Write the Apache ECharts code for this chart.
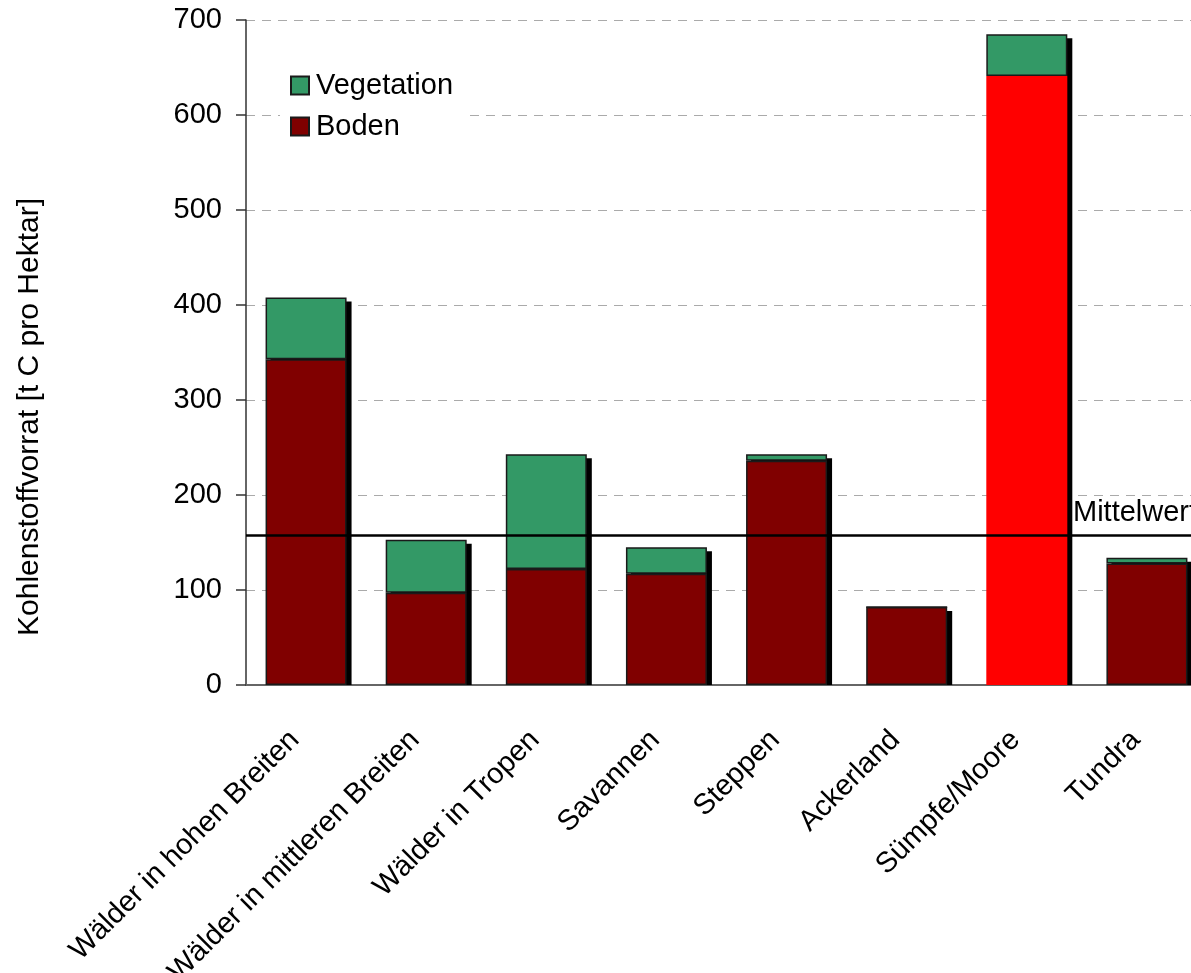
<!DOCTYPE html>
<html>
<head>
<meta charset="utf-8">
<title>Kohlenstoffvorrat</title>
<script src="https://cdn.jsdelivr.net/npm/echarts@6/dist/echarts.min.js"></script>
<style>
  html, body { margin: 0; padding: 0; background: #ffffff; }
  #chart { width: 1191px; height: 973px; }
</style>
</head>
<body>
<div id="chart"></div>
<script>
// Carbon stock per ecosystem type [t C per hectare]
const categories = [
  'Wälder in hohen Breiten',
  'Wälder in mittleren Breiten',
  'Wälder in Tropen',
  'Savannen',
  'Steppen',
  'Ackerland',
  'Sümpfe/Moore',
  'Tundra'
];
const boden = [343, 97, 122, 117, 236, 82, 641, 128];
const vegetation = [65, 56, 121, 28, 7, 0, 44, 6];
const mittelwert = 158;
const yTicks = [0, 100, 200, 300, 400, 500, 600, 700];
const highlightCategory = 'Sümpfe/Moore';

const FONT = 'Arial, "Liberation Sans", sans-serif';
const FS = 29;
const BAR_W = 81;
const GREEN = '#339966';
const DARKRED = '#800000';

const chart = echarts.init(document.getElementById('chart'), null, { renderer: 'canvas' });

const bodenData = boden.map((v, i) => categories[i] === highlightCategory
  ? { value: v, itemStyle: { color: '#ff0000', borderColor: '#ff0000', borderWidth: 3 } }
  : v);

const totals = categories.map((c, i) => [i, boden[i] + vegetation[i]]);

const option = {
  backgroundColor: '#ffffff',
  animation: false,
  textStyle: { fontFamily: FONT },
  grid: {
    left: 246, top: 20, width: 961, height: 665,
    containLabel: false,
    outerBoundsMode: 'none'
  },
  legend: {
    data: ['Vegetation', 'Boden'],
    orient: 'vertical',
    left: 280,
    top: 66,
    padding: [5, 12, 5, 10],
    backgroundColor: '#ffffff',
    itemWidth: 18,
    itemHeight: 18,
    itemGap: 12,
    icon: 'rect',
    textStyle: { fontSize: FS, color: '#000', fontFamily: FONT, padding: [0, 0, 0, 2] }
  },
  xAxis: {
    type: 'category',
    data: categories,
    axisLine: { show: true, lineStyle: { color: '#666666', width: 2 } },
    axisTick: { show: false },
    axisLabel: {
      rotate: 45,
      margin: 39,
      fontSize: FS,
      color: '#000',
      fontFamily: FONT,
      interval: 0,
      padding: [0, 16, 0, 0]
    },
    splitLine: { show: false }
  },
  yAxis: {
    type: 'value',
    min: 0,
    max: 700,
    interval: 100,
    axisLine: { show: true, lineStyle: { color: '#333333', width: 1.5 } },
    axisTick: { show: true, inside: false, length: 10, lineStyle: { color: '#333333', width: 1.5 } },
    axisLabel: {
      margin: 24,
      fontSize: FS,
      color: '#000',
      fontFamily: FONT,
      formatter: v => (yTicks.indexOf(v) >= 0 ? String(v) : '')
    },
    splitLine: { show: true, lineStyle: { color: '#aaaaaa', type: [9, 7], width: 1 } }
  },
  series: [
    {
      // drop shadow behind each stacked column
      name: 'Schatten',
      type: 'custom',
      z: 1,
      silent: true,
      encode: { x: 0, y: 1 },
      data: totals,
      renderItem: function (params, api) {
        const top = api.coord([api.value(0), api.value(1)]);
        const base = api.coord([api.value(0), 0]);
        return {
          type: 'rect',
          shape: {
            x: top[0] - BAR_W / 2 + 5,
            y: top[1] + 4,
            width: BAR_W,
            height: base[1] - top[1] - 4
          },
          style: { fill: '#000000' }
        };
      }
    },
    {
      name: 'Boden',
      type: 'bar',
      stack: 'gesamt',
      barWidth: BAR_W,
      z: 3,
      data: bodenData,
      itemStyle: { color: DARKRED, borderColor: '#1a1a1a', borderWidth: 1.5 },
      markLine: {
        silent: true,
        symbol: ['none', 'none'],
        z: 5,
        lineStyle: { color: '#000000', width: 2.5, type: 'solid' },
        label: { show: false },
        data: [{ yAxis: mittelwert }]
      }
    },
    {
      name: 'Vegetation',
      type: 'bar',
      stack: 'gesamt',
      barWidth: BAR_W,
      z: 2,
      data: vegetation,
      itemStyle: { color: GREEN, borderColor: '#1a1a1a', borderWidth: 1.5 }
    }
  ]
};

chart.setOption(option);

const meanY = chart.convertToPixel({ yAxisIndex: 0 }, mittelwert);
chart.setOption({
  graphic: [
    {
      type: 'text',
      x: 30,
      y: 417,
      rotation: Math.PI / 2,
      style: {
        text: 'Kohlenstoffvorrat [t C pro Hektar]',
        fontSize: 30,
        fontFamily: FONT,
        fill: '#000',
        align: 'center',
        verticalAlign: 'middle'
      }
    },
    {
      type: 'text',
      x: 1073,
      y: meanY - 7,
      z: 10,
      style: {
        text: 'Mittelwert',
        fontSize: FS,
        fontFamily: FONT,
        fill: '#000',
        align: 'left',
        verticalAlign: 'bottom'
      }
    }
  ]
});
</script>
</body>
</html>
